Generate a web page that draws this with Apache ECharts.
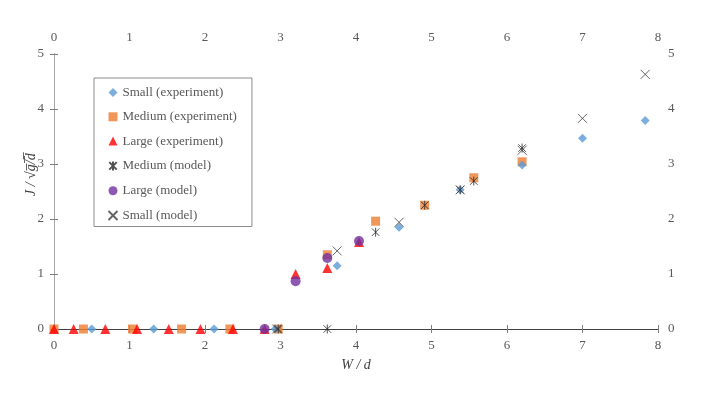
<!DOCTYPE html>
<html>
<head>
<meta charset="utf-8">
<script src="https://cdn.jsdelivr.net/npm/echarts@6/dist/echarts.min.js"></script>
<style>
  html, body { margin: 0; padding: 0; background: #fff; }
  #chart { width: 706px; height: 397px; }
</style>
</head>
<body>
<div id="chart"></div>
<script>
// W/d, J/sqrt(g/d) pairs
const smallExp = [[0.5, 0], [1.32, 0], [2.12, 0], [2.93, 0], [3.75, 1.15], [4.57, 1.85],
  [5.38, 2.53], [6.2, 2.98], [7.0, 3.47], [7.83, 3.79]];
const mediumExp = [[0, 0], [0.39, 0], [1.04, 0], [1.69, 0], [2.33, 0], [2.97, 0], [3.62, 1.35],
  [4.26, 1.96], [4.91, 2.25], [5.56, 2.75], [6.2, 3.04]];
const largeExp = [[0, 0], [0.26, 0], [0.68, 0], [1.1, 0], [1.52, 0], [1.94, 0], [2.37, 0],
  [2.79, 0], [3.2, 1.0], [3.62, 1.11], [4.04, 1.58]];
const mediumModel = [[2.97, 0], [3.62, 0], [4.26, 1.76], [4.91, 2.25], [5.38, 2.53],
  [5.56, 2.69], [6.2, 3.29]];
const largeModel = [[2.79, 0], [3.2, 0.87], [3.62, 1.29], [4.04, 1.6]];
const smallModel = [[2.95, 0], [3.75, 1.42], [4.57, 1.94], [5.38, 2.53], [6.2, 3.25],
  [7.0, 3.83], [7.83, 4.63]];
const xTicks = [0, 1, 2, 3, 4, 5, 6, 7, 8];
const yTicks = [0, 1, 2, 3, 4, 5];

const FONT = "Liberation Serif";
const LABEL = "#595959";
const CROSS = "path://M0,0L10,10M10,0L0,10";
const STAR = "path://M0,0L10,10M10,0L0,10M5,-1L5,11";

function axisX(pos, lineColor) {
  return {
    type: "value", position: pos, min: 0, max: 8, interval: 1,
    axisLine: { show: true, lineStyle: { color: lineColor, width: 1 } },
    axisTick: { show: true, inside: true, length: 4, lineStyle: { color: "#7f7f7f" } },
    axisLabel: { color: LABEL, fontFamily: FONT, fontSize: 13, margin: 10,
                 formatter: (v) => xTicks.includes(v) ? String(v) : "" },
    splitLine: { show: false },
  };
}
function axisY(pos, lineColor) {
  return {
    type: "value", position: pos, min: 0, max: 5, interval: 1,
    axisLine: { show: true, lineStyle: { color: lineColor, width: 1 } },
    axisTick: { show: true, inside: true, length: 4, lineStyle: { color: "#7f7f7f" } },
    axisLabel: { color: LABEL, fontFamily: FONT, fontSize: 13, margin: 10,
                 formatter: (v) => yTicks.includes(v) ? String(v) : "" },
    splitLine: { show: false },
  };
}

const xBottom = axisX("bottom", "#a6a6a6");
xBottom.name = "W / d";
xBottom.nameLocation = "middle";
xBottom.nameGap = 29;
xBottom.nameTextStyle = { color: "#404040", fontFamily: FONT, fontSize: 14, fontStyle: "italic" };
const xTop = axisX("top", "#404040");
const yLeft = axisY("left", "#7f7f7f");
const yRight = axisY("right", "#a6a6a6");

function series(name, data, symbol, size, style, z) {
  return { name, type: "scatter", data, symbol, symbolSize: size, symbolKeepAspect: true,
           itemStyle: style, xAxisIndex: 0, yAxisIndex: 0, z };
}

const option = {
  animation: false,
  textStyle: { fontFamily: FONT },
  grid: { left: 54, right: 48, top: 54, bottom: 68 },
  xAxis: [xBottom, xTop],
  yAxis: [yLeft, yRight],
  legend: {
    left: 94, top: 78, orient: "vertical",
    itemWidth: 9, itemHeight: 9, itemGap: 11.3,
    padding: [8, 15, 4, 12],
    borderColor: "#8c8c8c", borderWidth: 1,
    textStyle: { color: LABEL, fontFamily: FONT, fontSize: 13 },
    data: ["Small (experiment)", "Medium (experiment)", "Large (experiment)",
           "Medium (model)", "Large (model)", "Small (model)"],
  },
  graphic: [{
    type: "text", x: 24, y: 196, rotation: Math.PI / 2,
    style: { text: "J / \u221Ag\u0305/\u0305d\u0305", fill: "#404040",
             font: "italic 14px 'Liberation Serif'" },
  }],
  series: [
    series("Small (experiment)", smallExp, "diamond", 9, { color: "#5B9BD5" }, 3),
    series("Medium (experiment)", mediumExp, "rect", 9, { color: "#ED7D31" }, 2),
    series("Large (experiment)", largeExp, "triangle", 10, { color: "#FF0000" }, 4),
    series("Medium (model)", mediumModel, STAR, 9,
           { color: "none", borderColor: "#262626", borderWidth: 1 }, 6),
    series("Large (model)", largeModel, "circle", 10, { color: "#7030A0" }, 5),
    series("Small (model)", smallModel, CROSS, 9,
           { color: "none", borderColor: "#404040", borderWidth: 1 }, 7),
  ],
};

const chart = echarts.init(document.getElementById("chart"), null, { renderer: "canvas" });
chart.setOption(option);
</script>
</body>
</html>
